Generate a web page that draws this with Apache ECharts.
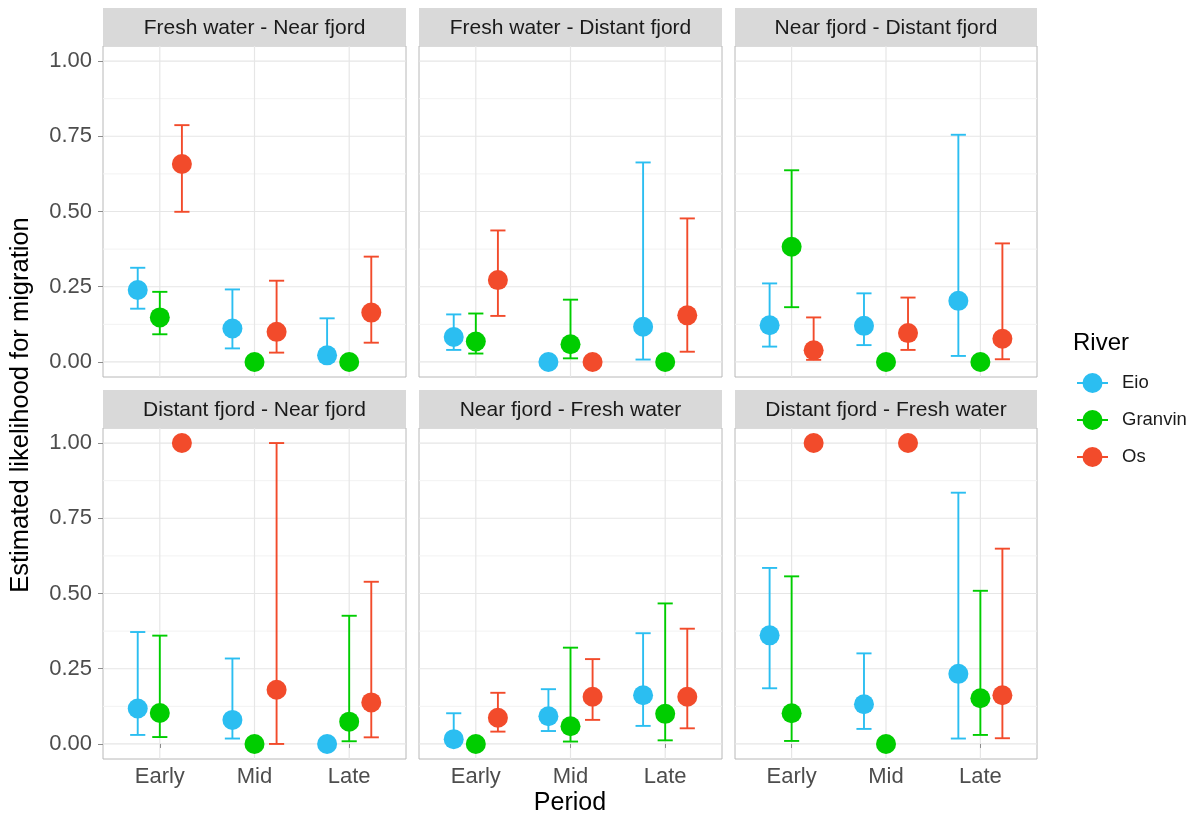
<!DOCTYPE html>
<html><head><meta charset="utf-8">
<script src="https://cdn.jsdelivr.net/npm/echarts@6/dist/echarts.min.js"></script>
<style>html,body{margin:0;padding:0;background:#fff}#c{width:1196px;height:819px}</style>
</head><body><div id="c"></div><script>
const periods = ['Early', 'Mid', 'Late'];
const rivers = ['Eio', 'Granvin', 'Os'];
const facets = ['Fresh water - Near fjord', 'Fresh water - Distant fjord', 'Near fjord - Distant fjord',
                'Distant fjord - Near fjord', 'Near fjord - Fresh water', 'Distant fjord - Fresh water'];
const yTicks = [0, 0.25, 0.5, 0.75, 1];
const yMinorTicks = [0.125, 0.375, 0.625, 0.875];
const xTicks = [1, 2, 3];

// rows = facets (in order above), cols = periods (Early, Mid, Late); null = no interval drawn
const eioEst = [[0.239,0.111,0.022],[0.083,0,0.117],[0.122,0.12,0.203],[0.118,0.08,0],[0.016,0.092,0.162],[0.361,0.132,0.233]];
const eioLo  = [[0.177,0.045,0.002],[0.04,null,0.008],[0.051,0.056,0.02],[0.03,0.018,null],[0.002,0.043,0.06],[0.185,0.05,0.018]];
const eioHi  = [[0.313,0.241,0.145],[0.158,null,0.663],[0.261,0.228,0.755],[0.372,0.284,null],[0.102,0.182,0.368],[0.585,0.301,0.835]];
const granvinEst = [[0.148,0,0],[0.068,0.059,0],[0.383,0,0],[0.103,0,0.074],[0,0.059,0.1],[0.102,0,0.152]];
const granvinLo  = [[0.092,null,null],[0.028,0.012,null],[0.182,null,null],[0.023,null,0.009],[null,0.008,0.012],[0.01,null,0.03]];
const granvinHi  = [[0.233,null,null],[0.161,0.207,null],[0.637,null,null],[0.36,null,0.426],[null,0.32,0.467],[0.557,null,0.509]];
const osEst = [[0.658,0.1,0.164],[0.272,0,0.155],[0.039,0.096,0.077],[1,0.18,0.138],[0.087,0.157,0.157],[1,1,0.162]];
const osLo  = [[0.499,0.031,0.064],[0.153,null,0.034],[0.007,0.04,0.009],[null,0,0.022],[0.041,0.08,0.052],[null,null,0.019]];
const osHi  = [[0.787,0.27,0.35],[0.437,null,0.477],[0.148,0.214,0.394],[null,1,0.539],[0.17,0.282,0.383],[null,null,0.649]];

const riverEst = [eioEst, granvinEst, osEst];
const riverLo = [eioLo, granvinLo, osLo];
const riverHi = [eioHi, granvinHi, osHi];
const colors = ['#2BBEF1', '#00CD00', '#F24B2B'];

const FONT = '"Liberation Sans", Arial, sans-serif';
const colLeft = [103, 419, 735];
const colW = [303, 303, 302];
const rowTop = [46, 428];
const stripTop = [8, 390];
const panelH = 331;
const dodge = [-0.2333, 0, 0.2333];
const capHalf = 0.08;

const grids = [], xAxes = [], yAxes = [], series = [], graphics = [];

function gridSeries(i, name, values, kind) {
  return {
    type: 'custom', name: name, xAxisIndex: i, yAxisIndex: i, silent: true, z: 0,
    data: values.map(v => [v]),
    renderItem: function (params, api) {
      const cs = params.coordSys;
      const v = api.value(0);
      let shape;
      if (kind === 'v') {
        const p = api.coord([v, 0]);
        shape = { x1: p[0], y1: cs.y, x2: p[0], y2: cs.y + cs.height };
      } else {
        const p = api.coord([1, v]);
        shape = { x1: cs.x, y1: p[1], x2: cs.x + cs.width, y2: p[1] };
      }
      return { type: 'line', shape: shape,
        style: { stroke: kind === 'minor' ? '#F2F2F2' : '#E6E6E6', lineWidth: kind === 'minor' ? 1 : 1.2 } };
    }
  };
}

for (let f = 0; f < 6; f++) {
  const col = f % 3, row = Math.floor(f / 3);
  grids.push({ left: colLeft[col], top: rowTop[row], width: colW[col], height: panelH,
    show: true, borderColor: '#B8B8B8', borderWidth: 1, backgroundColor: 'transparent' });
  xAxes.push({ type: 'value', gridIndex: f, min: 0.4, max: 3.6,
    axisLine: { show: false }, splitLine: { show: false },
    axisTick: { show: row === 1, customValues: xTicks, length: 4, lineStyle: { color: '#8C8C8C', width: 1 } },
    axisLabel: { show: row === 1, customValues: xTicks, margin: 7, fontSize: 22, color: '#4D4D4D', fontFamily: FONT,
      formatter: v => periods[Math.round(v) - 1] } });
  yAxes.push({ type: 'value', gridIndex: f, min: -0.05, max: 1.05,
    axisLine: { show: false }, splitLine: { show: false },
    axisTick: { show: col === 0, customValues: yTicks, length: 5, lineStyle: { color: '#8C8C8C', width: 1 } },
    axisLabel: { show: col === 0, customValues: yTicks, margin: 11, fontSize: 22, color: '#4D4D4D', fontFamily: FONT,
      formatter: v => v.toFixed(2) } });

  series.push(gridSeries(f, 'minorGrid', yMinorTicks, 'minor'));
  series.push(gridSeries(f, 'majorGrid', yTicks, 'major'));
  series.push(gridSeries(f, 'xGrid', xTicks, 'v'));

  for (let r = 0; r < 3; r++) {
    const bars = [];
    const pts = [];
    for (let p = 0; p < 3; p++) {
      const x = xTicks[p] + dodge[r];
      pts.push([x, riverEst[r][f][p]]);
      if (riverLo[r][f][p] !== null && riverHi[r][f][p] !== null) {
        bars.push([x, riverLo[r][f][p], riverHi[r][f][p]]);
      }
    }
    const color = colors[r];
    series.push({
      type: 'custom', name: rivers[r], xAxisIndex: f, yAxisIndex: f, z: 2, silent: true,
      data: bars,
      renderItem: function (params, api) {
        const x = api.value(0), lo = api.value(1), hi = api.value(2);
        const top = api.coord([x, hi]), bot = api.coord([x, lo]);
        const tl = api.coord([x - capHalf, hi]), tr = api.coord([x + capHalf, hi]);
        const bl = api.coord([x - capHalf, lo]), br = api.coord([x + capHalf, lo]);
        const st = { stroke: color, lineWidth: 1.9 };
        return { type: 'group', children: [
          { type: 'line', shape: { x1: top[0], y1: top[1], x2: bot[0], y2: bot[1] }, style: st },
          { type: 'line', shape: { x1: tl[0], y1: tl[1], x2: tr[0], y2: tr[1] }, style: st },
          { type: 'line', shape: { x1: bl[0], y1: bl[1], x2: br[0], y2: br[1] }, style: st }
        ] };
      }
    });
    series.push({
      type: 'scatter', name: rivers[r], xAxisIndex: f, yAxisIndex: f, z: 3,
      symbol: 'circle', symbolSize: 20, data: pts,
      itemStyle: { color: color, opacity: 1 }
    });
  }

  // strip
  graphics.push({ type: 'rect', shape: { x: colLeft[col], y: stripTop[row], width: colW[col], height: rowTop[row] - stripTop[row] },
    style: { fill: '#D9D9D9' }, z: 1 });
  graphics.push({ type: 'text', x: colLeft[col] + colW[col] / 2, y: (stripTop[row] + rowTop[row]) / 2 + 1, z: 2,
    style: { text: facets[f], textAlign: 'center', textVerticalAlign: 'middle', fill: '#1A1A1A',
      font: '21px ' + FONT } });
}

graphics.push({ type: 'text', x: 570, y: 803, style: { text: 'Period', textAlign: 'center', textVerticalAlign: 'middle',
  fill: '#000', font: '25px ' + FONT } });
graphics.push({ type: 'text', x: 21, y: 405, rotation: Math.PI / 2,
  style: { text: 'Estimated likelihood for migration', textAlign: 'center', textVerticalAlign: 'middle',
  fill: '#000', font: '25.5px ' + FONT } });
graphics.push({ type: 'text', x: 1073, y: 343, style: { text: 'River', textAlign: 'left', textVerticalAlign: 'middle',
  fill: '#000', font: '24px ' + FONT } });

const legendIcon = 'path://M0,9L31,9L31,11L0,11Z M5.5,10A10,10,0,1,1,25.5,10A10,10,0,1,1,5.5,10Z';

const option = {
  animation: false,
  backgroundColor: '#fff',
  grid: grids, xAxis: xAxes, yAxis: yAxes, series: series,
  graphic: { elements: graphics },
  legend: {
    orient: 'vertical', left: 1077, top: 373, padding: 0, itemWidth: 31, itemHeight: 20, itemGap: 17,
    selectedMode: false,
    data: rivers.map((r, i) => ({ name: r, icon: legendIcon, itemStyle: { color: colors[i] } })),
    textStyle: { fontSize: 18.5, color: '#1A1A1A', fontFamily: FONT, padding: [0, 0, 0, 9] }
  }
};
const chart = echarts.init(document.getElementById('c'), null, { renderer: 'canvas' });
chart.setOption(option);
</script></body></html>
